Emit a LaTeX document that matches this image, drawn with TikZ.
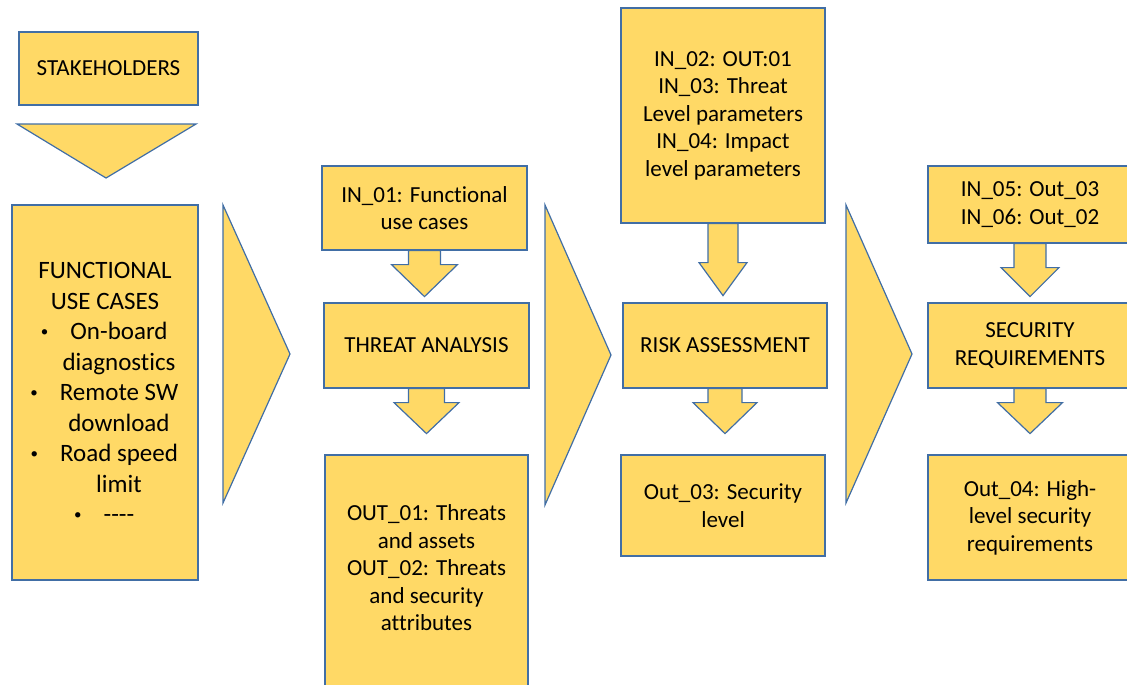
\documentclass[tikz,border=0pt]{standalone}
\usepackage{fontspec}
\setmainfont{Carlito}[Ligatures={TeX,NoCommon}]
\usetikzlibrary{backgrounds}
\definecolor{gold}{HTML}{FFD966}
\definecolor{edge}{RGB}{65,110,165}
\tikzset{
  box/.style={draw=edge, fill=gold, line width=1.2pt, inner sep=0pt, align=center,
    font=\fontsize{23}{27.5}\selectfont},
  txt/.style={inner sep=0pt, align=center, font=\fontsize{23}{27.5}\selectfont},
  blk/.style={draw=edge, fill=gold, line width=1.2pt, line join=miter},
}
% block arrow pointing down from an anchor:
% #1 anchor, #2 shaft half-width, #3 head half-width, #4 shaft length, #5 head length
\newcommand\dnarrow[5]{%
  \filldraw[blk] (#1) ++(-#2,0) -- ++(0,#4) -- ++(#2-#3,0) -- ++(#3,#5)
    -- ++(#3,-#5) -- ++(#2-#3,0) -- ++(0,-#4) -- cycle;}
% small list bullet hung to the left of a centred item line
\newcommand\itembullet{\hspace*{28pt}\llap{\raisebox{3.6pt}{\scalebox{0.6}{\textbullet}}\hspace{22pt}}}
\begin{document}
\begin{tikzpicture}[x=1pt,y=-1pt]
\useasboundingbox (0,0) rectangle (1127,685);
\clip (0,0) rectangle (1127,685);

% stakeholders column
\node[box, minimum width=179pt, minimum height=73pt] (stake) at (108.5,68.5) {STAKEHOLDERS};
\filldraw[blk] (17,124) coordinate (d1) -- (196,124) coordinate (d2) -- (106,178) coordinate (d3) -- cycle;
\node[box, minimum width=186pt, minimum height=375pt] (fuc) at (105,392.5) {};
\node[txt, font=\fontsize{25}{30.5}\selectfont] (fuct) at (fuc.center) {%
  FUNCTIONAL\\
  USE CASES\\
  \itembullet On-board\\
  \hspace*{28pt}diagnostics\\
  \itembullet Remote SW\\
  \hspace*{28pt}download\\
  \itembullet Road speed\\
  \hspace*{28pt}limit\\
  \itembullet -\kern0pt-\kern0pt-\kern0pt-};

% stage chevrons
\filldraw[blk] (223,205) coordinate (c1a) -- (290,354) coordinate (c1b) -- (223,503) coordinate (c1c) -- cycle;
\filldraw[blk] (545,205) coordinate (c2a) -- (611,355) coordinate (c2b) -- (545,505) coordinate (c2c) -- cycle;
\filldraw[blk] (846,205) coordinate (c3a) -- (912,354) coordinate (c3b) -- (846,503) coordinate (c3c) -- cycle;

% threat analysis column
\node[box, minimum width=205pt, minimum height=84pt] (in1) at (424.5,208) {IN\_01: Functional\\use cases};
\node[box, minimum width=205pt, minimum height=85pt] (ta) at (426.5,345.5) {THREAT ANALYSIS};
\node[box, minimum width=203pt, minimum height=240pt] (out1) at (426.5,575) {};
\node[txt] (out1t) at (426.5,568) {OUT\_01: Threats\\and assets\\OUT\_02: Threats\\and security\\attributes};

% risk assessment column
\node[box, minimum width=204pt, minimum height=215pt] (in2) at (723,115.5) {IN\_02: OUT:01\\IN\_03: Threat\\Level parameters\\IN\_04: Impact\\level parameters};
\node[box, minimum width=204pt, minimum height=85pt] (ra) at (725,345.5) {RISK ASSESSMENT};
\node[box, minimum width=204pt, minimum height=101pt] (out3) at (723,505.5) {Out\_03: Security\\level};

% security requirements column
\node[box, minimum width=204pt, minimum height=77pt] (in5) at (1030,204.5) {IN\_05: Out\_03\\IN\_06: Out\_02};
\node[box, minimum width=204pt, minimum height=85pt] (sr) at (1030,345.5) {SECURITY\\REQUIREMENTS};
\node[box, minimum width=204pt, minimum height=125pt] (out4) at (1030,517.5) {Out\_04: High-\\level security\\requirements};

% block arrows between boxes
\begin{scope}[on background layer]
  \dnarrow{in1.south}{16}{33}{14}{32}
  \dnarrow{ta.south}{18}{32.5}{14}{31}
  \dnarrow{in2.south}{15}{24}{39}{33}
  \dnarrow{ra.south}{17}{32}{14}{31}
  \dnarrow{in5.south}{16}{29}{24}{29}
  \dnarrow{sr.south}{16}{32.5}{14}{31}
\end{scope}
\end{tikzpicture}
\end{document}
